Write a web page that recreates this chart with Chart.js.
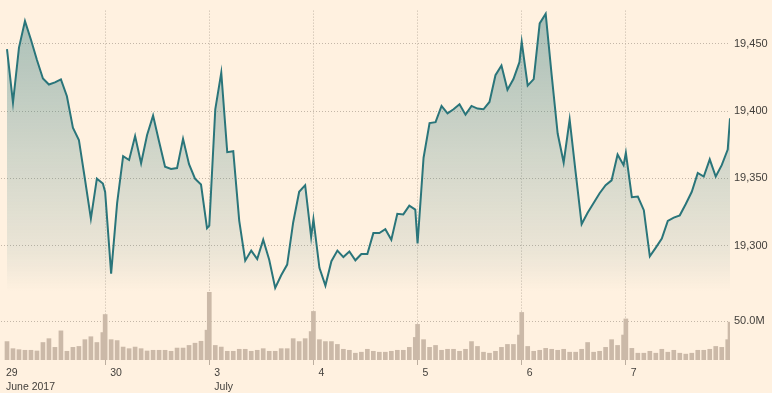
<!DOCTYPE html>
<html>
<head>
<meta charset="utf-8">
<script src="https://cdn.jsdelivr.net/npm/chart.js@4.4.0/dist/chart.umd.min.js"></script>
<style>
html,body{margin:0;padding:0;background:#fff1e0;}
#wrap{width:772px;height:393px;position:relative;}
</style>
</head>
<body>
<div id="wrap"><canvas id="c"></canvas></div>
<script>
// ---- Data ----
const dayLabels = [["29","June 2017"],["30"],["3","July"],["4"],["5"],["6"],["7"]];
const priceTicks = [19300, 19350, 19400, 19450];
const volumeTicks = [50];

// Price per trading day, one value per interval (slot 0 = open). null = not shown.
const price29Jun = [null,19446,19406.3,19447.2,19466.9,19453,19438,19424.3,19419.8,19421.4,19423.6,19411.1,19387.7,19378.6,19349.8,19320.2,19349.8,19346.2];
const price30Jun = [19340,19279.3,19331.7,19366.6,19363.7,19381.5,19361.3,19382.3,19396.7,19377.4,19358.7,19357,19357.7,19379.4,19360.6,19349.8,19345.5,19313];
const price3Jul  = [19315,19401.4,19428.6,19369.5,19370.2,19318.5,19288.9,19296.4,19290.1,19304.5,19289.6,19268.7,19278.1,19286,19317.3,19340.1,19345,19306.5];
const price4Jul  = [19319.7,19283.6,19270.4,19288.5,19296.4,19291.6,19295.7,19289.2,19293.9,19293.9,19309.4,19309.4,19312.3,19304.5,19323.8,19323.3,19329.8,19326.9];
const price5Jul  = [19301.7,19365.4,19391.1,19391.8,19403.9,19398.3,19401.4,19405.1,19397.4,19403.9,19401.9,19401.4,19406.8,19426.7,19433.9,19415.9,19423.8,19436.4];
const price6Jul  = [19451.5,19419,19423.8,19465.2,19472.4,19426.7,19383.4,19361.8,19393.8,19354.5,19316.1,19324.5,19331.7,19339,19345,19348.6,19367.8,19359.9];
const price7Jul  = [19369,19336.1,19336.5,19326.4,19292.1,19298.6,19305.3,19318.5,19320.9,19322.6,19331,19340.1,19354.1,19351.4,19364.2,19351.4,19359.9,19371.4];
const priceLast  = 19394.7;

// Volume (millions) per interval
const volume29Jun = [null,23.9,14.7,13.4,12.6,12.6,11.7,22.7,27.7,16.4,37.8,11.3,16.4,17.6,26.4,30.2,22.7,35.6];
const volume30Jun = [59,26.4,25.2,16.8,14.7,16.8,14.7,11.7,12.6,12.6,12.6,11.3,15.5,15.5,18.9,21.8,24.3,38.7];
const volume3Jul  = [89.4,18.9,16.8,11.3,11.3,13.9,13.9,11.3,12.6,14.7,11.3,11.3,14.7,14.7,27.7,23.9,27.7,36.9];
const volume4Jul  = [63,26.4,23.9,23.9,20.2,13.9,12.6,8.8,10.1,13.9,11.3,10.1,10.1,11.3,12.6,12.6,16.4,29.3];
const volume5Jul  = [46.2,26.4,16.4,18.9,12.6,13.9,13.9,11.3,13.9,23.9,17.6,10.1,8.8,11.3,16.4,20.2,20.2,32.4];
const volume6Jul  = [61.7,17.6,11.3,12.6,15.1,13.9,12.6,13.9,10.1,10.1,13.9,22.7,10.1,11.3,16.4,26.4,18.9,32.4];
const volume7Jul  = [53.3,15.1,8.8,8.8,11.3,8.8,13.9,10.1,12.6,8.8,7.6,8.8,12.6,12.6,13.9,17.6,16.4,26.4];
const volumeLast  = 49.1;

// ---- Time axis: each day spans DAY slots on the axis ----
const DAY = 17.38;
const priceDays = [price29Jun, price30Jun, price3Jul, price4Jul, price5Jul, price6Jul, price7Jul];
const volumeDays = [volume29Jun, volume30Jun, volume3Jul, volume4Jul, volume5Jul, volume6Jul, volume7Jul];
const dayStarts = dayLabels.map((_, d) => d * DAY);

const pricePoints = [];
priceDays.forEach((arr, d) => arr.forEach((v, s) => { if (v !== null) pricePoints.push({x: d * DAY + s, y: v}); }));
pricePoints.push({x: 7 * DAY, y: priceLast});
const volumePoints = [];
volumeDays.forEach((arr, d) => arr.forEach((v, s) => { if (v !== null) volumePoints.push({x: d * DAY + s, y: v}); }));
volumePoints.push({x: 7 * DAY, y: volumeLast});

const textColor = '#43403c';
const gridColor = '#c4b7a8';
const fontFamily = '"Liberation Sans", Arial, Helvetica, sans-serif';

new Chart(document.getElementById('c'), {
  type: 'line',
  data: {
    datasets: [
      {
        type: 'line', data: pricePoints, xAxisID: 'x', yAxisID: 'y',
        borderColor: '#2a757a', borderWidth: 2, pointRadius: 0, tension: 0,
        fill: 'start', order: 1,
        backgroundColor: (ctx) => {
          const chart = ctx.chart; const ys = chart.scales.y;
          if (!chart.chartArea || !ys) return 'rgba(42,117,122,0.2)';
          const g = chart.ctx.createLinearGradient(0, ys.top, 0, ys.bottom);
          g.addColorStop(0, 'rgba(42,117,122,0.40)');
          g.addColorStop(0.17, 'rgba(42,117,122,0.34)');
          g.addColorStop(0.52, 'rgba(42,117,122,0.21)');
          g.addColorStop(0.86, 'rgba(42,117,122,0.09)');
          g.addColorStop(1, 'rgba(42,117,122,0)');
          return g;
        }
      },
      {
        type: 'bar', data: volumePoints, xAxisID: 'x', yAxisID: 'v',
        backgroundColor: '#cbb9a8', barThickness: 4, order: 2
      }
    ]
  },
  options: {
    responsive: true, maintainAspectRatio: false, animation: false,
    layout: { padding: 0, autoPadding: false },
    plugins: { legend: { display: false }, tooltip: { enabled: false } },
    scales: {
      x: {
        type: 'linear', min: 0, max: 7 * DAY, offset: false,
        afterBuildTicks: (s) => { s.ticks = dayStarts.map(v => ({value: v})); },
        afterFit: (s) => { s.height = 33; },
        grid: {
          offset: false, lineWidth: 1, drawTicks: true, tickLength: 5,
          color: (c) => c.index === 0 ? 'rgba(0,0,0,0)' : gridColor,
          tickColor: (c) => c.index === 0 ? 'rgba(0,0,0,0)' : '#bcae9f',
          tickBorderDash: []
        },
        border: { display: false, dash: [1, 2] },
        ticks: {
          autoSkip: false, maxRotation: 0, minRotation: 0, align: 'start', labelOffset: 5, padding: 1,
          color: textColor, font: { family: fontFamily, size: 10.5, lineHeight: 1.36 },
          callback: (v, i) => dayLabels[i]
        }
      },
      y: {
        type: 'linear', position: 'right', stack: 'main', stackWeight: 290, weight: 1,
        min: 19265.6, max: 19474.7,
        afterBuildTicks: (s) => { s.ticks = priceTicks.map(v => ({value: v})); },
        afterFit: (s) => { s.width = 42; },
        grid: { color: gridColor, lineWidth: 1, drawTicks: false },
        border: { display: false, dash: [1, 2] },
        ticks: { padding: 4, color: textColor, font: { family: fontFamily, size: 11 },
          callback: (v) => v.toLocaleString('en-US') }
      },
      v: {
        type: 'linear', position: 'right', stack: 'main', stackWeight: 70, weight: 2,
        min: 0, max: 88.16,
        afterBuildTicks: (s) => { s.ticks = volumeTicks.map(v => ({value: v})); },
        afterFit: (s) => { s.width = 42; },
        grid: { color: gridColor, lineWidth: 1, drawTicks: false },
        border: { display: false, dash: [1, 2] },
        ticks: { padding: 4, color: textColor, font: { family: fontFamily, size: 11 },
          callback: (v) => v.toFixed(1) + 'M' }
      }
    }
  }
});
</script>
</body>
</html>
